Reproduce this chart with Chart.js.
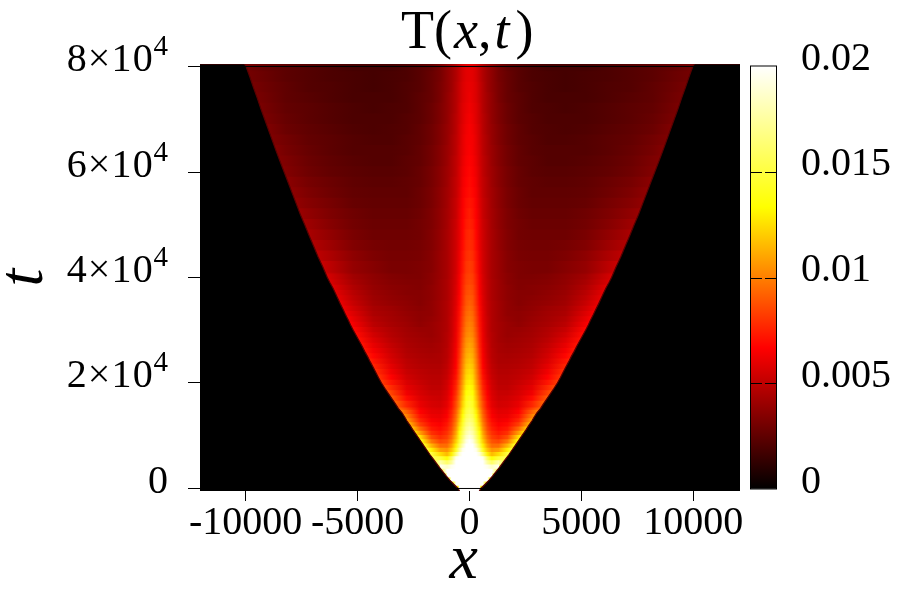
<!DOCTYPE html>
<html lang="en">
<head>
    <meta charset="UTF-8">
    <title>T(x,t)</title>
    <script src="https://cdn.jsdelivr.net/npm/chart.js"></script>
    <style>
        body { margin: 0; background: #fff; }
        #wrap { position: relative; width: 900px; height: 600px; overflow: hidden; }
        #heat, #bar { position: absolute; left: 0; top: 0; }
        #title {
            position: absolute; left: 401px; top: 0;
            font: 54px/60px "Liberation Serif", serif; color: #000; white-space: pre;
        }
        #title i { margin-left: 2px; }
        #title i + i { margin-left: 3px; margin-right: 6px; }
    </style>
</head>
<body>
    <div id="wrap">
        <canvas id="heat" width="900" height="600"></canvas>
        <canvas id="bar" width="900" height="600"></canvas>
        <div id="title">T(<i>x</i>,<i>t</i>)</div>
    </div>

    <script>
        // half profile positions, the picture is mirrored around x = 0
        const xNodes = [0, 150, 300, 450, 600, 800, 1000, 1300, 1700, 2200, 2800, 3500, 4300, 5200, 6200, 7200, 8200, 9200];

        const upperT = [80000, 78000, 76000, 74000, 72000, 70000, 68000, 66000, 64000, 62000, 60000, 58000, 56000, 54000, 52000, 50000, 48000, 46000, 44000, 42000];
        const upperFront = [9980, 9810, 9650, 9480, 9320, 9150, 8980, 8810, 8640, 8460, 8280, 8100, 7920, 7740, 7560, 7360, 7170, 6970, 6770, 6550];
        const upperRim = [30, 30, 31, 31, 32, 32, 33, 33, 34, 34, 35, 36, 37, 38, 40, 42, 44, 46, 49, 52];
        // T values in units of 1e-4, one line per t
        const upperRows = [
            [60, 59, 56, 51, 46, 41, 37, 31, 26, 23, 20, 18, 18, 18, 20, 22, 24, 27],
            [60, 59, 56, 51, 46, 41, 37, 31, 27, 23, 20, 19, 18, 19, 20, 22, 24, 28],
            [61, 60, 57, 52, 47, 41, 37, 32, 27, 23, 21, 19, 18, 19, 21, 22, 25, 29],
            [62, 60, 57, 52, 47, 42, 38, 32, 27, 24, 21, 19, 19, 19, 21, 23, 25, 30],
            [63, 61, 58, 53, 47, 42, 38, 33, 28, 24, 21, 20, 19, 20, 22, 24, 26, 31],
            [64, 62, 58, 53, 48, 43, 38, 33, 28, 24, 22, 20, 20, 20, 22, 24, 27],
            [65, 63, 59, 54, 48, 43, 39, 34, 29, 25, 22, 21, 20, 21, 23, 25, 28],
            [65, 64, 60, 54, 49, 44, 39, 34, 29, 25, 23, 21, 21, 22, 24, 26, 30],
            [66, 64, 60, 55, 49, 44, 40, 35, 30, 26, 23, 22, 22, 22, 24, 27, 31],
            [67, 65, 61, 55, 50, 45, 40, 35, 30, 26, 24, 22, 22, 23, 25, 28, 33],
            [68, 66, 62, 56, 50, 45, 41, 36, 31, 27, 24, 23, 23, 24, 26, 29, 34],
            [69, 67, 63, 56, 51, 46, 41, 36, 31, 27, 25, 24, 24, 25, 28, 31],
            [70, 68, 64, 57, 51, 46, 42, 37, 32, 28, 25, 25, 25, 26, 29, 33],
            [72, 70, 65, 58, 52, 47, 42, 37, 32, 28, 26, 26, 26, 27, 31, 35],
            [74, 71, 66, 59, 52, 47, 43, 38, 33, 29, 27, 27, 27, 29, 33, 38],
            [75, 73, 67, 60, 53, 48, 43, 38, 33, 30, 28, 28, 28, 30, 35, 41],
            [77, 75, 68, 60, 54, 48, 44, 39, 34, 30, 29, 29, 29, 32, 38],
            [78, 76, 69, 61, 54, 49, 44, 39, 34, 31, 30, 30, 31, 34, 41],
            [80, 78, 71, 62, 55, 49, 44, 40, 35, 32, 31, 31, 33, 37, 45],
            [82, 80, 72, 63, 55, 49, 44, 40, 35, 33, 32, 32, 35, 39, 49]
        ];

        const midT = [41000, 40000, 39000, 38000, 37000, 36000, 35000, 34000, 33000, 32000, 31000, 30000, 29000, 28000, 27000, 26000, 25000, 24000, 23000, 22000, 21000, 20000, 19000, 18000, 17000, 16000];
        const midFront = [6450, 6350, 6230, 6100, 5990, 5880, 5770, 5650, 5540, 5420, 5310, 5190, 5060, 4930, 4800, 4680, 4550, 4430, 4300, 4180, 4060, 3930, 3780, 3620, 3460, 3300];
        const midRim = [54, 56, 57, 58, 59, 60, 61, 62, 63, 65, 66, 68, 69, 70, 71, 72, 73, 75, 76, 78, 80, 82, 85, 88, 90, 92];
        const midRows = [
            [83, 81, 73, 63, 55, 49, 44, 40, 36, 33, 32, 33, 36, 40, 52],
            [84, 82, 74, 64, 56, 49, 44, 40, 36, 33, 33, 34, 37, 42, 54],
            [85, 83, 75, 65, 56, 50, 45, 41, 36, 34, 34, 35, 38, 44, 56],
            [87, 85, 76, 65, 57, 50, 45, 41, 37, 34, 35, 36, 39, 46],
            [88, 86, 77, 66, 57, 50, 45, 41, 37, 35, 35, 37, 40, 48],
            [90, 88, 78, 67, 58, 50, 45, 41, 37, 35, 36, 38, 41, 50],
            [92, 89, 79, 68, 58, 51, 46, 42, 38, 35, 37, 39, 42, 52],
            [94, 91, 81, 69, 59, 51, 46, 42, 38, 36, 38, 41, 44, 55],
            [96, 93, 82, 70, 60, 51, 46, 42, 38, 37, 39, 42, 45, 58],
            [98, 95, 84, 71, 60, 52, 46, 42, 39, 37, 40, 43, 47, 61],
            [100, 97, 85, 72, 61, 52, 46, 43, 40, 38, 41, 44, 49, 64],
            [102, 99, 87, 73, 61, 52, 46, 43, 40, 40, 42, 46, 52],
            [104, 101, 89, 74, 62, 52, 47, 43, 40, 41, 43, 47, 55],
            [107, 104, 91, 75, 62, 53, 47, 43, 41, 42, 44, 49, 58],
            [110, 106, 93, 76, 63, 54, 47, 44, 42, 43, 45, 51, 61],
            [112, 109, 95, 78, 64, 54, 48, 44, 43, 44, 46, 53, 64],
            [115, 111, 97, 79, 65, 55, 48, 45, 44, 45, 47, 55, 68],
            [118, 114, 99, 81, 66, 56, 49, 45, 45, 46, 49, 57, 72],
            [121, 117, 101, 83, 67, 57, 50, 46, 46, 47, 50, 60],
            [124, 120, 103, 85, 69, 58, 51, 47, 47, 49, 52, 63],
            [127, 123, 105, 87, 71, 60, 52, 48, 48, 50, 54, 67],
            [130, 126, 108, 90, 74, 62, 54, 49, 49, 52, 57, 72],
            [134, 130, 111, 93, 76, 64, 55, 50, 50, 54, 60, 78],
            [138, 134, 115, 96, 79, 66, 57, 52, 52, 56, 63, 84],
            [143, 138, 118, 99, 82, 68, 58, 53, 54, 58, 69],
            [148, 142, 122, 102, 86, 70, 60, 55, 56, 61, 76]
        ];

        const lowerT = [15200, 14400, 13600, 12800, 12000, 11200, 10400, 9600, 8800, 8000, 7200, 6400, 5600, 4800, 4000, 3200, 2400, 1600, 800, 0];
        const lowerFront = [3180, 3020, 2900, 2790, 2660, 2540, 2410, 2280, 2150, 2020, 1890, 1760, 1620, 1480, 1340, 1190, 1040, 880, 700, 510];
        const lowerRim = [96, 100, 104, 108, 112, 118, 124, 130, 136, 142, 148, 152, 155, 160, 160, 165, 165, 160, 150, 130];
        const lowerRows = [
            [152, 146, 126, 106, 88, 72, 62, 57, 58, 64, 84],
            [156, 150, 130, 110, 91, 75, 64, 59, 60, 67, 92],
            [161, 155, 135, 114, 94, 77, 66, 61, 62, 71, 100],
            [166, 160, 140, 118, 97, 80, 69, 63, 65, 76],
            [172, 165, 145, 123, 101, 83, 72, 66, 69, 83],
            [178, 171, 151, 128, 105, 86, 75, 69, 73, 94],
            [185, 177, 157, 134, 110, 90, 79, 73, 79, 108],
            [192, 184, 163, 140, 115, 95, 83, 78, 87, 125],
            [200, 192, 170, 147, 121, 100, 88, 85, 98],
            [210, 202, 182, 158, 130, 108, 95, 95, 114],
            [215, 210, 195, 172, 142, 118, 105, 108, 130],
            [220, 216, 205, 190, 165, 130, 115, 125, 150],
            [225, 224, 218, 208, 195, 160, 135, 150],
            [230, 230, 226, 218, 205, 175, 160, 178],
            [235, 235, 232, 226, 215, 195, 185, 195],
            [240, 238, 234, 226, 215, 205, 205],
            [245, 242, 238, 232, 225, 220, 220],
            [250, 248, 242, 236, 232, 225],
            [250, 250, 245, 240, 232],
            [250, 250, 245, 235]
        ];

        const xTicks = [-10000, -5000, 0, 5000, 10000];
        const tTicks = [0, 20000, 40000, 60000, 80000];
        const tTickLabels = ['0', '2×10', '4×10', '6×10', '8×10'];
        const tTickPowers = ['', '4', '4', '4', '4'];
        const barTicks = [0, 0.005, 0.01, 0.015, 0.02];
        const barTickLabels = ['0', '0.005', '0.01', '0.015', '0.02'];

        // palette: black, red, yellow, white at equal steps of 0..0.02
        const paletteStops = [[0, '#000000'], [1 / 3, '#ff0000'], [2 / 3, '#ffff00'], [1, '#ffffff']];

        const FONT = '"Liberation Serif", serif';
        const X_MIN = -12040, X_MAX = 12090, T_MIN = -474, T_MAX = 80474;

        function heatColor(v) {
            const f = Math.min(1, Math.max(0, v / 200)) * 3;
            const r = Math.round(255 * Math.min(1, f));
            const g = Math.round(255 * Math.min(1, Math.max(0, f - 1)));
            const b = Math.round(255 * Math.min(1, Math.max(0, f - 2)));
            return `rgb(${r},${g},${b})`;
        }

        // horizontal gradient for one row of the table
        function rowGradient(chart, row, front, rim, reach) {
            const x = chart.scales.x;
            const left = x.getPixelForValue(-reach), right = x.getPixelForValue(reach);
            const g = chart.ctx.createLinearGradient(left, 0, right, 0);
            const put = (pos, v) => {
                g.addColorStop((pos + reach) / (2 * reach), heatColor(v));
            };
            put(-reach, rim);
            put(-front, rim);
            for (let i = row.length - 1; i > 0; i--) put(-xNodes[i], row[i]);
            for (let i = 0; i < row.length; i++) put(xNodes[i], row[i]);
            put(front, rim);
            put(reach, rim);
            return g;
        }

        function rowDataset(ts, fronts, rims, rows, thickness) {
            const reach = i => fronts[i] + 500;
            return {
                type: 'bar',
                indexAxis: 'y',
                grouped: false,
                barThickness: thickness,
                borderWidth: 0,
                data: ts.map((t, i) => ({ y: t, x: [-reach(i), reach(i)] })),
                backgroundColor: ctx => {
                    if (!ctx.chart.chartArea || ctx.dataIndex === undefined) return '#000';
                    const i = ctx.dataIndex;
                    return rowGradient(ctx.chart, rows[i], fronts[i], rims[i], reach(i));
                }
            };
        }

        // black area outside the front, one side at a time
        function outsideDataset(sign) {
            const ts = upperT.concat(midT, lowerT);
            const fronts = upperFront.concat(midFront, lowerFront);
            const pts = ts.map((t, i) => ({ x: sign * fronts[i], y: t }));
            pts.unshift({ x: sign * 10060, y: T_MAX });
            pts.unshift({ x: sign * 12200, y: T_MAX });
            pts.push({ x: sign * 440, y: T_MIN });
            if (sign > 0) pts.reverse();
            return {
                type: 'line',
                data: pts,
                borderColor: '#5a0000',
                borderWidth: 1.2,
                pointRadius: 0,
                tension: 0,
                fill: { value: T_MIN },
                backgroundColor: '#000000',
                order: -1
            };
        }

        function borderDataset(t) {
            return {
                type: 'line',
                data: [{ x: X_MIN, y: t }, { x: X_MAX, y: t }],
                borderColor: '#000000',
                borderWidth: 1,
                pointRadius: 0,
                order: -2
            };
        }

        const blackArea = {
            id: 'blackArea',
            beforeDatasetsDraw(chart) {
                const a = chart.chartArea;
                chart.ctx.save();
                chart.ctx.fillStyle = '#000000';
                chart.ctx.fillRect(a.left, a.top, a.right - a.left, a.bottom - a.top);
                chart.ctx.restore();
            }
        };

        // t labels have a raised power, so they are written here and not by the scale
        const tLabels = {
            id: 'tLabels',
            afterDraw(chart) {
                const { ctx, scales } = chart;
                const right = scales.y.right - 32;
                ctx.save();
                ctx.fillStyle = '#000000';
                ctx.textAlign = 'right';
                ctx.textBaseline = 'alphabetic';
                tTicks.forEach((t, i) => {
                    const base = scales.y.getPixelForValue(t) + 4.5;
                    const power = tTickPowers[i];
                    if (power) {
                        ctx.font = '29px ' + FONT;
                        ctx.letterSpacing = '0px';
                        ctx.fillText(power, right, base - 16);
                    }
                    ctx.font = '40px ' + FONT;
                    ctx.letterSpacing = power ? '1.2px' : '0px';
                    ctx.fillText(tTickLabels[i], power ? right - 14 : right, base);
                });
                ctx.restore();
            }
        };

        new Chart(document.getElementById('heat'), {
            type: 'bar',
            data: {
                datasets: [
                    rowDataset(upperT, upperFront, upperRim, upperRows, 11),
                    rowDataset(midT, midFront, midRim, midRows, 6),
                    rowDataset(lowerT, lowerFront, lowerRim, lowerRows, 5),
                    outsideDataset(-1),
                    outsideDataset(1),
                    borderDataset(80000),
                    borderDataset(0)
                ]
            },
            plugins: [blackArea, tLabels],
            options: {
                responsive: false,
                animation: false,
                layout: { padding: { top: 64, right: 160, left: 0, bottom: 0 } },
                plugins: { legend: { display: false }, title: { display: false }, tooltip: { enabled: false } },
                scales: {
                    x: {
                        type: 'linear',
                        offset: false,
                        min: X_MIN,
                        max: X_MAX,
                        afterFit: s => { s.height = 109; },
                        afterBuildTicks: s => { s.ticks = xTicks.map(v => ({ value: v })); },
                        grid: { offset: false, drawOnChartArea: false, tickLength: 10, tickColor: '#000', tickWidth: 1 },
                        border: { display: false },
                        ticks: {
                            autoSkip: false,
                            maxRotation: 0,
                            padding: -2,
                            color: '#000',
                            font: { family: FONT, size: 40 },
                            callback: v => String(v)
                        },
                        title: {
                            display: true,
                            text: 'x\u2009',
                            color: '#000',
                            font: { family: FONT, size: 64, style: 'italic' },
                            padding: { top: 0, bottom: 0 }
                        }
                    },
                    y: {
                        type: 'linear',
                        offset: false,
                        min: T_MIN,
                        max: T_MAX,
                        afterFit: s => { s.width = 200; },
                        afterBuildTicks: s => { s.ticks = tTicks.map(v => ({ value: v })); },
                        grid: { offset: false, drawOnChartArea: false, tickLength: 12, tickColor: '#000', tickWidth: 1 },
                        border: { display: false },
                        ticks: { display: false },
                        title: {
                            display: true,
                            text: 't',
                            color: '#000',
                            font: { family: FONT, size: 64, style: 'italic' },
                            padding: { top: -13, bottom: 0 }
                        }
                    }
                }
            }
        });

        // colour box: one bar from 0 to 0.02 with the palette as gradient
        const barRange = [0, 0.02];

        const barFrame = {
            id: 'barFrame',
            afterDatasetsDraw(chart) {
                const { ctx, chartArea: a, scales } = chart;
                ctx.save();
                ctx.strokeStyle = '#000000';
                ctx.lineWidth = 1;
                const top = scales.y.getPixelForValue(barRange[1]), bottom = scales.y.getPixelForValue(barRange[0]);
                ctx.strokeRect(a.left + 0.5, top, a.right - a.left - 1, bottom - top);
                for (const v of barTicks.slice(1, -1)) {
                    const p = Math.round(scales.y.getPixelForValue(v)) + 0.5;
                    ctx.beginPath();
                    ctx.moveTo(a.left, p); ctx.lineTo(a.left + 12, p);
                    ctx.moveTo(a.right - 12, p); ctx.lineTo(a.right, p);
                    ctx.stroke();
                }
                ctx.restore();
            }
        };

        new Chart(document.getElementById('bar'), {
            type: 'bar',
            data: {
                labels: ['T'],
                datasets: [{
                    data: [barRange],
                    borderWidth: 0,
                    barPercentage: 1,
                    categoryPercentage: 1,
                    backgroundColor: ctx => {
                        if (!ctx.chart.chartArea) return '#000';
                        const y = ctx.chart.scales.y;
                        const g = ctx.chart.ctx.createLinearGradient(0, y.getPixelForValue(barRange[0]), 0, y.getPixelForValue(barRange[1]));
                        paletteStops.forEach(s => g.addColorStop(s[0], s[1]));
                        return g;
                    }
                }]
            },
            plugins: [barFrame],
            options: {
                responsive: false,
                animation: false,
                layout: { padding: { top: 66, left: 750, right: 0, bottom: 111 } },
                plugins: { legend: { display: false }, title: { display: false }, tooltip: { enabled: false } },
                scales: {
                    x: { display: false },
                    y: {
                        position: 'right',
                        min: 0,
                        max: 0.02,
                        afterFit: s => { s.width = 123; },
                        afterBuildTicks: s => { s.ticks = barTicks.map(v => ({ value: v })); },
                        grid: { drawOnChartArea: false, drawTicks: false },
                        border: { display: false },
                        ticks: {
                            padding: 24,
                            labelOffset: -7,
                            color: '#000',
                            font: { family: FONT, size: 40 },
                            callback: v => barTickLabels[barTicks.indexOf(v)]
                        }
                    }
                }
            }
        });
    </script>
</body>
</html>
